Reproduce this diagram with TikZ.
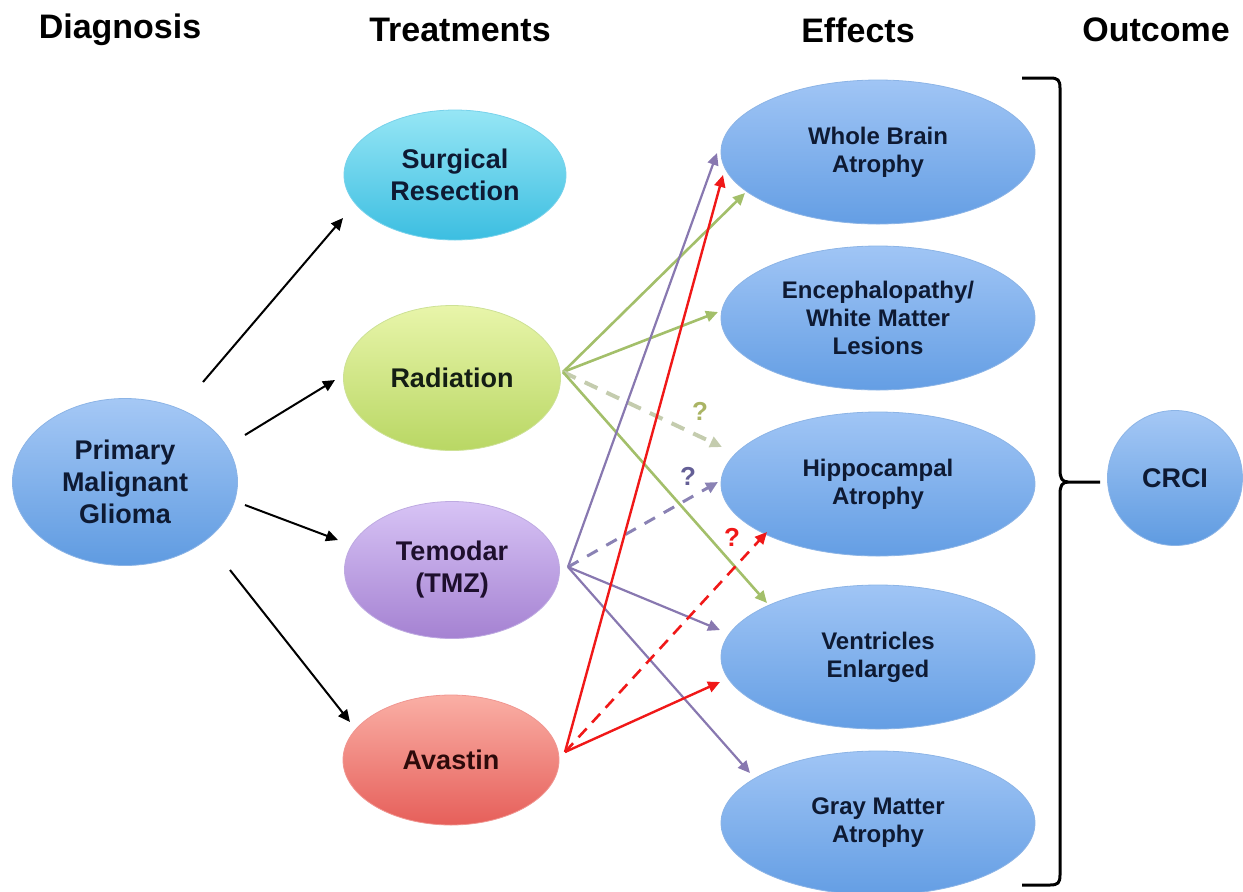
\documentclass[tikz,border=0pt]{standalone}
\usepackage{fontspec}
\setmainfont{Liberation Sans}
\usetikzlibrary{arrows.meta,shapes.geometric}
\definecolor{txt}{HTML}{0E1A33}
\definecolor{grn}{HTML}{A3BF6A}
\definecolor{grnd}{HTML}{C4CCAE}
\definecolor{pur}{HTML}{8878B0}
\definecolor{purd}{HTML}{8A82B4}
\definecolor{rd}{HTML}{F01818}
\tikzset{
  bub/.style={ellipse,inner sep=0pt,align=center,font=\bfseries\fontsize{13.5}{16}\selectfont,text=txt,draw=white!70!black,line width=0.4pt},
  eff/.style={bub,minimum width=157pt,minimum height=72pt,font=\bfseries\fontsize{12}{14}\selectfont,
     top color={rgb,255:red,160;green,197;blue,245},bottom color={rgb,255:red,100;green,158;blue,228},draw={rgb,255:red,140;green,180;blue,230}},
  hd/.style={font=\bfseries\fontsize{17}{20}\selectfont,text=black},
  blk/.style={-{Triangle[length=6pt,width=5.5pt]},line width=1pt,black},
  gar/.style={-{Triangle[length=6pt,width=5.5pt]},line width=1.3pt,grn},
  gdash/.style={-{Triangle[length=6pt,width=5.5pt]},line width=2pt,grnd,dash pattern=on 7pt off 5pt},
  par/.style={-{Triangle[length=6pt,width=5.5pt]},line width=1.1pt,pur},
  pdash/.style={-{Triangle[length=6pt,width=5.5pt]},line width=1.5pt,purd,dash pattern=on 6pt off 5pt},
  rar/.style={-{Triangle[length=6pt,width=5.5pt]},line width=1.2pt,rd},
  rdash/.style={-{Triangle[length=6pt,width=5.5pt]},line width=1.3pt,rd,dash pattern=on 6pt off 4pt},
  qm/.style={font=\bfseries\fontsize{13}{15}\selectfont},
}
\begin{document}
\begin{tikzpicture}[x=0.5pt,y=-0.5pt]
\useasboundingbox (0,0) rectangle (1243,891);
% headings
\node[hd] (h1) at (120,30) {Diagnosis};
\node[hd] (h2) at (460,30) {Treatments};
\node[hd] (h3) at (858,30) {Effects};
\node[hd] (h4) at (1156,30) {Outcome};
% nodes
\node[bub,minimum width=112.5pt,minimum height=83.5pt,top color={rgb,255:red,165;green,200;blue,245},bottom color={rgb,255:red,95;green,155;blue,225},draw={rgb,255:red,140;green,180;blue,230}] (pmg) at (125,482) {Primary\\Malignant\\Glioma};
\node[bub,minimum width=111pt,minimum height=65pt,top color={rgb,255:red,150;green,230;blue,245},bottom color={rgb,255:red,60;green,190;blue,225},draw={rgb,255:red,120;green,210;blue,235}] (sur) at (455,175) {Surgical\\Resection};
\node[bub,minimum width=108.5pt,minimum height=72.5pt,top color={rgb,255:red,232;green,245;blue,170},bottom color={rgb,255:red,185;green,215;blue,100},draw={rgb,255:red,205;green,225;blue,150},text={rgb,255:red,20;green,30;blue,20}] (rad) at (452,378) {Radiation};
\node[bub,minimum width=107.5pt,minimum height=68.5pt,top color={rgb,255:red,215;green,195;blue,245},bottom color={rgb,255:red,165;green,130;blue,210},draw={rgb,255:red,190;green,170;blue,225},text={rgb,255:red,30;green,15;blue,45}] (tmz) at (452,570) {Temodar\\(TMZ)};
\node[bub,minimum width=108pt,minimum height=65pt,top color={rgb,255:red,250;green,175;blue,165},bottom color={rgb,255:red,230;green,95;blue,90},draw={rgb,255:red,240;green,150;blue,145},text={rgb,255:red,45;green,10;blue,10}] (ava) at (451,760) {Avastin};
\node[eff] (wba) at (878,152) {Whole Brain\\Atrophy};
\node[eff] (enc) at (878,318) {Encephalopathy/\\White Matter\\Lesions};
\node[eff] (hip) at (878,484) {Hippocampal\\Atrophy};
\node[eff] (ven) at (878,657) {Ventricles\\Enlarged};
\node[eff] (gma) at (878,823) {Gray Matter\\Atrophy};
\node[bub,circle,minimum size=67.5pt,top color={rgb,255:red,165;green,200;blue,245},bottom color={rgb,255:red,95;green,155;blue,225},draw={rgb,255:red,140;green,180;blue,230}] (crci) at (1175,478) {CRCI};
% black arrows
\coordinate (b1s) at (203,382); \coordinate (b1e) at (343,218);
\coordinate (b2s) at (245,435); \coordinate (b2e) at (335,380);
\coordinate (b3s) at (245,505); \coordinate (b3e) at (338,540);
\coordinate (b4s) at (230,570); \coordinate (b4e) at (350,722);
\draw[blk] (b1s) -- (b1e);
\draw[blk] (b2s) -- (b2e);
\draw[blk] (b3s) -- (b3e);
\draw[blk] (b4s) -- (b4e);
% origins
\coordinate (rs) at (563,372);
\coordinate (ts) at (568,567);
\coordinate (as) at (565,752);
% targets
\coordinate (wg) at (745,193); \coordinate (wp) at (717,153); \coordinate (wr) at (723,175);
\coordinate (eg) at (718,312);
\coordinate (hg) at (722,447); \coordinate (hp) at (718,482); \coordinate (hr) at (767,532);
\coordinate (vg) at (767,603); \coordinate (vp) at (720,630); \coordinate (vr) at (720,682);
\coordinate (gp) at (750,773);
% green
\draw[gar] (rs) -- (wg);
\draw[gar] (rs) -- (eg);
\draw[gdash] (rs) -- (hg);
\draw[gar] (rs) -- (vg);
% purple
\draw[par] (ts) -- (wp);
\draw[pdash] (ts) -- (hp);
\draw[par] (ts) -- (vp);
\draw[par] (ts) -- (gp);
% red
\draw[rar] (as) -- (wr);
\draw[rdash] (as) -- (hr);
\draw[rar] (as) -- (vr);
% question marks
\node[qm,text={rgb,255:red,170;green,180;blue,100}] (q1) at (700,411) {?};
\node[qm,text={rgb,255:red,100;green,95;blue,150}] (q2) at (688,476) {?};
\node[qm,text=rd] (q3) at (732,537) {?};
% bracket
\coordinate (bt) at (1022,78);
\coordinate (bb) at (1022,885);
\coordinate (bm) at (1100,482);
\draw[line width=1.5pt,black] (bt) -- (1050,78) .. controls (1058,78) and (1060,80) .. (1060,88)
  -- (1060,470) .. controls (1060,478) and (1062,482) .. (1068,482) -- (bm);
\draw[line width=1.5pt,black] (1068,482) .. controls (1062,482) and (1060,486) .. (1060,494)
  -- (1060,875) .. controls (1060,883) and (1058,885) .. (1050,885) -- (bb);
\end{tikzpicture}
\end{document}
